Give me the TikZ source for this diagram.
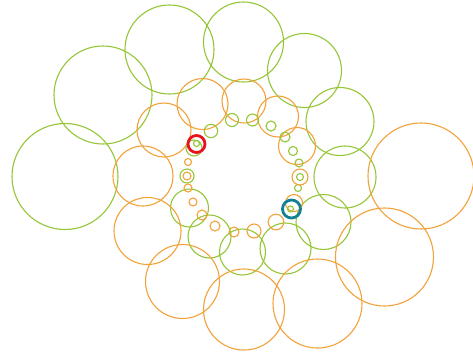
\documentclass[tikz,border=0pt]{standalone}
\definecolor{cgreen}{RGB}{150,198,55}
\definecolor{corange}{RGB}{243,162,58}
\definecolor{cred}{RGB}{230,20,30}
\definecolor{cteal}{RGB}{20,128,148}
\begin{document}
\begin{tikzpicture}[x=1pt,y=-1pt,
  gr/.style={draw=cgreen,line width=1.1pt},
  orr/.style={draw=corange,line width=1.1pt},
  hilite/.style={line width=2.8pt}]
\useasboundingbox[fill=white] (0,0) rectangle (473,357);
% green big spiral
\foreach \x/\y/\r in {103/95/49, 65/176.5/53, 169.5/49.5/44.5, 243.5/42/40,
  304.5/70.5/37, 340/121.5/34, 345/177/31, 323.5/222/27.5, 285.5/248.5/25.5,
  242.5/252/23, 209.5/236.5/21.5, 189.5/208/19}
  \draw[gr] (\x,\y) circle[radius=\r pt];
% orange big spiral
\foreach \x/\y/\r in {421/176/53, 384.5/257/49, 317.5/303.5/44.5, 244/309.5/40.5,
  182.5/281.5/37, 147.5/231/33.5, 143/176/30, 164/130/27, 202.5/104/25.5,
  244/101/22, 278/116.5/20.5, 297/146/18.5}
  \draw[orr] (\x,\y) circle[radius=\r pt];
% small green ring
\foreach \x/\y/\r in {211/131/6.7, 232/120/6.5, 252.5/120/6, 271/126/5, 285/137/5,
  293/151/4.5, 299/163/4, 298/188/3.5, 187/176/7, 194/148/8}
  \draw[gr] (\x,\y) circle[radius=\r pt];
% small orange ring
\foreach \x/\y/\r in {300/177/8, 294/203/8.5, 276/222/7.8, 254/231/7, 234/232/5,
  215/226/5, 202/215/5, 193/202/4, 188/188/4, 187/176/4, 188/162/3.5}
  \draw[orr] (\x,\y) circle[radius=\r pt];
\draw[gr] (300,177) circle[radius=3.5pt];
% highlighted circles
\draw[hilite,draw=cred] (196.5,144) circle[radius=8.5pt];
\draw[hilite,draw=cteal] (291.5,209) circle[radius=9pt];
\draw[gr] (196.5,143.5) circle[radius=3pt];
\draw[gr] (290.5,209) circle[radius=3pt];
\end{tikzpicture}
\end{document}
